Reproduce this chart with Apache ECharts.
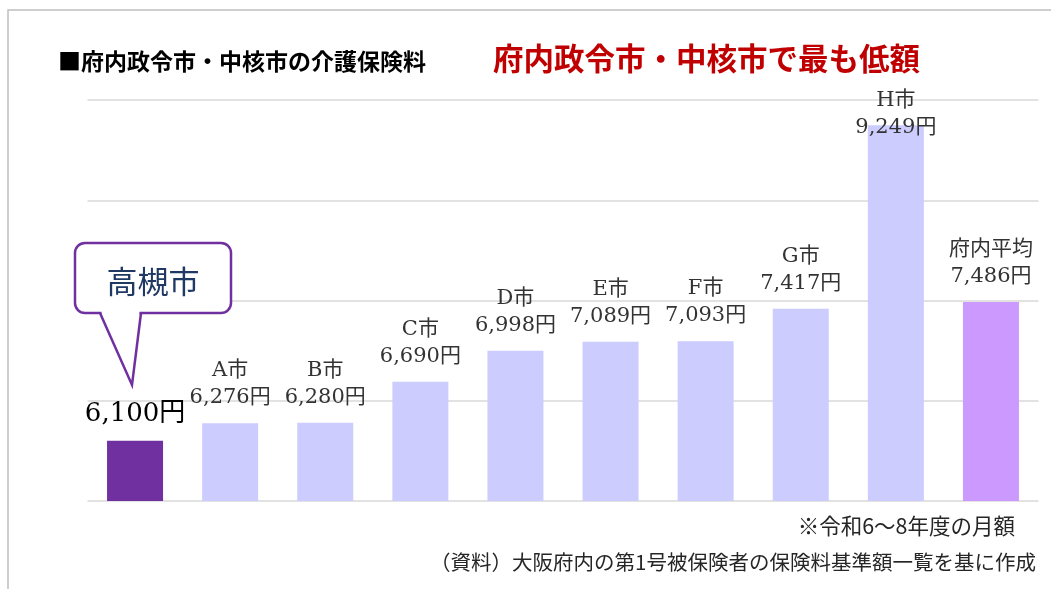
<!DOCTYPE html>
<html>
<head>
<meta charset="utf-8">
<script src="https://cdn.jsdelivr.net/npm/echarts@6/dist/echarts.min.js"></script>
<style>
  html, body { margin: 0; padding: 0; background: #fff; }
  #main { width: 1051px; height: 589px; }
</style>
</head>
<body>
<div id="main"></div>
<script>
  // 介護保険料（月額）
  const cities = ['高槻市', 'A市', 'B市', 'C市', 'D市', 'E市', 'F市', 'G市', 'H市', '府内平均']
  const fees = [6100, 6276, 6280, 6690, 6998, 7089, 7093, 7417, 9249, 7486]
  const yMin = 5500
  const yMax = 9500
  const gridStep = 1000

  const sans = "'Noto Sans CJK JP', 'Noto Sans', sans-serif"
  const serif = "'DejaVu Serif', 'Noto Sans CJK JP', serif"

  const fmt = v => v.toLocaleString('en-US')

  const barData = fees.map((v, i) => {
    let color = '#CCCCFF'
    if (i === 0) color = '#7030A0'
    if (i === cities.length - 1) color = '#CC99FF'
    const item = { value: v, itemStyle: { color: color } }
    // 一番高い棒はラベルが棒に重なる
    if (v === Math.max(...fees)) item.label = { offset: [0, 28] }
    return item
  })

  const chart = echarts.init(document.getElementById('main'), null, { renderer: 'canvas' })

  chart.setOption({
    animation: false,
    backgroundColor: '#fff',
    title: [
      {
        text: '■府内政令市・中核市の介護保険料',
        left: 53,
        top: 45,
        textStyle: { fontFamily: sans, fontSize: 23, fontWeight: 'bold', color: '#000' }
      },
      {
        text: '府内政令市・中核市で最も低額',
        left: 488,
        top: 38,
        textStyle: { fontFamily: sans, fontSize: 30.5, fontWeight: 'bold', color: '#C00000' }
      }
    ],
    grid: { left: 87.5, right: 12.5, top: 100, bottom: 88 },
    xAxis: {
      type: 'category',
      data: cities,
      axisLine: { show: false },
      axisTick: { show: false },
      axisLabel: { show: false }
    },
    yAxis: [
      {
        type: 'value',
        min: yMin,
        max: yMax,
        axisLine: { show: false },
        axisTick: { show: false },
        axisLabel: { show: false },
        splitLine: { show: false }
      },
      {
        // 目盛線だけ（5500 から 1000 刻み）
        type: 'value',
        position: 'left',
        min: 0,
        max: yMax - yMin,
        interval: gridStep,
        axisLine: { show: false },
        axisTick: { show: false },
        axisLabel: { show: false },
        splitLine: { show: true, lineStyle: { color: '#D9D9D9', width: 1.5 } }
      }
    ],
    series: [
      {
        type: 'bar',
        yAxisIndex: 0,
        barWidth: 56,
        data: barData,
        label: {
          show: true,
          position: 'top',
          distance: 12,
          formatter: p => p.dataIndex === 0
            ? '{big|' + fmt(p.value) + '円}'
            : '{n|' + p.name + '}\n{n|' + fmt(p.value) + '円}',
          rich: {
            n: { fontFamily: serif, fontSize: 21, lineHeight: 27, color: '#333' },
            big: { fontFamily: serif, fontSize: 26, lineHeight: 30, color: '#000' }
          }
        }
      }
    ],
    graphic: [
      // 外枠
      {
        type: 'polyline',
        shape: { points: [[8, 589], [8, 10], [1051, 10]] },
        style: { stroke: '#BFBFBF', lineWidth: 1.5, fill: null }
      },
      // 吹き出し
      {
        type: 'rect',
        shape: { x: 75, y: 243, width: 156, height: 70, r: 10 },
        style: { fill: '#fff', stroke: '#7030A0', lineWidth: 2.5 },
        z: 10
      },
      {
        type: 'polygon',
        shape: { points: [[101.5, 308], [101.5, 313], [132, 382], [139.5, 313], [139.5, 308]] },
        style: { fill: '#fff' },
        z: 11
      },
      {
        type: 'polyline',
        shape: { points: [[100, 313], [132, 385], [141, 313]] },
        style: { stroke: '#7030A0', lineWidth: 2.5, fill: null },
        z: 11
      },
      {
        type: 'text',
        style: {
          text: '高槻市',
          x: 153,
          y: 281,
          align: 'center',
          verticalAlign: 'middle',
          font: '31px ' + sans,
          fill: '#1F3864'
        },
        z: 12
      },
      // 注記
      {
        type: 'text',
        style: {
          text: '※令和6～8年度の月額',
          x: 1015,
          y: 526,
          align: 'right',
          verticalAlign: 'middle',
          font: '21.5px ' + sans,
          fill: '#262626'
        }
      },
      {
        type: 'text',
        style: {
          text: '（資料）大阪府内の第1号被保険者の保険料基準額一覧を基に作成',
          x: 1036,
          y: 562,
          align: 'right',
          verticalAlign: 'middle',
          font: '20.5px ' + sans,
          fill: '#262626'
        }
      }
    ]
  })
</script>
</body>
</html>
